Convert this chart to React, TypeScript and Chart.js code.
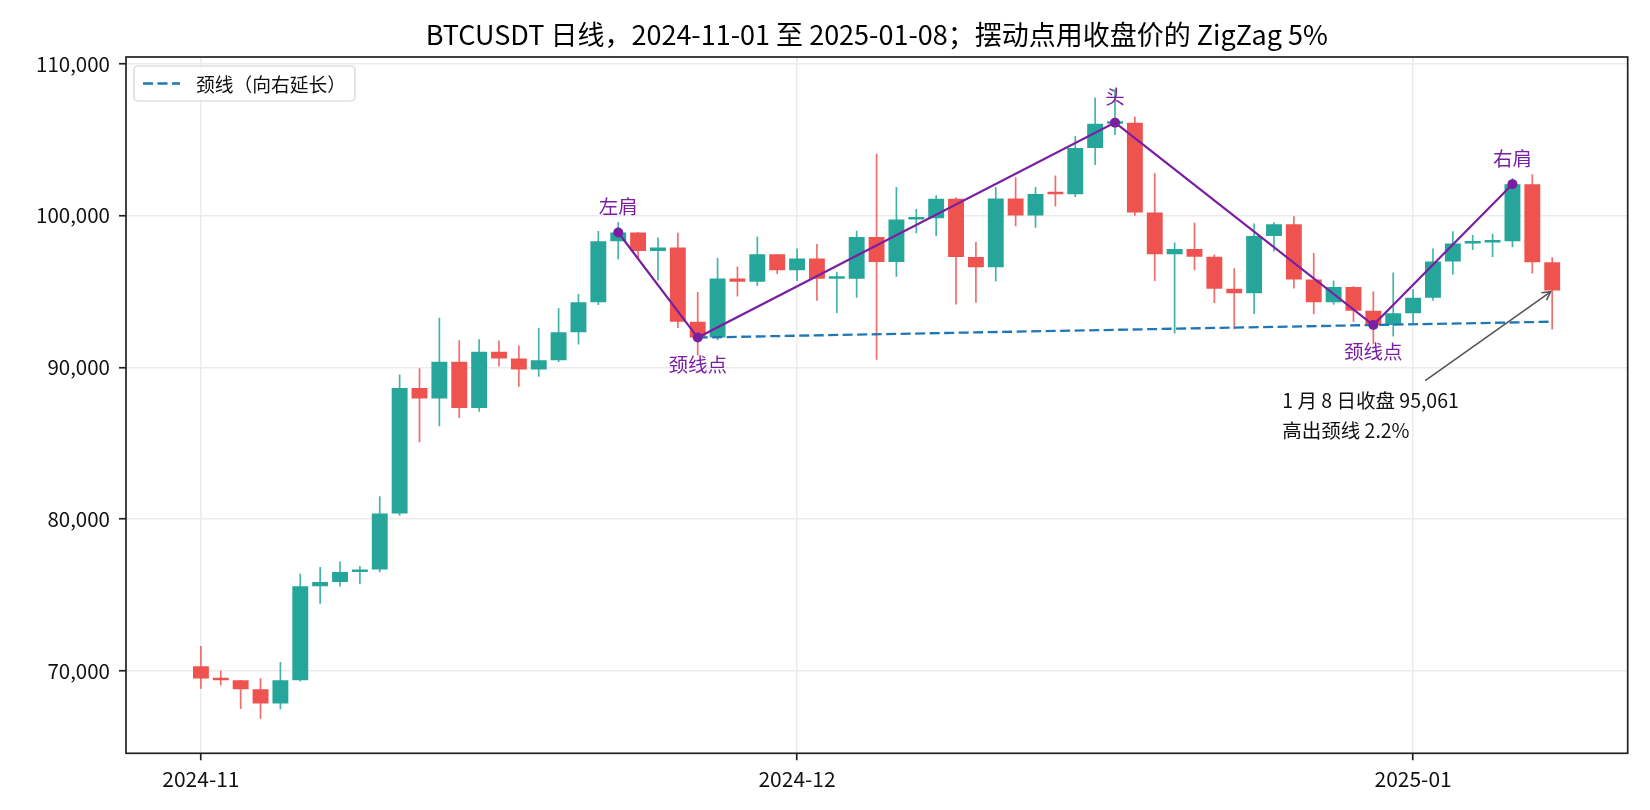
import React, { useEffect, useRef } from 'react';
import { Chart, registerables } from 'chart.js';

Chart.register(...registerables);

// ---------- data ----------
const dates = [
  '2024-11-01','2024-11-02','2024-11-03','2024-11-04','2024-11-05','2024-11-06','2024-11-07','2024-11-08','2024-11-09','2024-11-10',
  '2024-11-11','2024-11-12','2024-11-13','2024-11-14','2024-11-15','2024-11-16','2024-11-17','2024-11-18','2024-11-19','2024-11-20',
  '2024-11-21','2024-11-22','2024-11-23','2024-11-24','2024-11-25','2024-11-26','2024-11-27','2024-11-28','2024-11-29','2024-11-30',
  '2024-12-01','2024-12-02','2024-12-03','2024-12-04','2024-12-05','2024-12-06','2024-12-07','2024-12-08','2024-12-09','2024-12-10',
  '2024-12-11','2024-12-12','2024-12-13','2024-12-14','2024-12-15','2024-12-16','2024-12-17','2024-12-18','2024-12-19','2024-12-20',
  '2024-12-21','2024-12-22','2024-12-23','2024-12-24','2024-12-25','2024-12-26','2024-12-27','2024-12-28','2024-12-29','2024-12-30',
  '2024-12-31','2025-01-01','2025-01-02','2025-01-03','2025-01-04','2025-01-05','2025-01-06','2025-01-07','2025-01-08',
];

const opens = [
  70292,69496,69374,68775,67850,69372,75571,75857,76509,76678,80370,88647,87952,90375,87325,91032,90587,89855,90465,92310,
  94286,98317,98892,97672,97900,93010,91965,95864,95643,97460,
  96407,97185,95840,95849,98587,96945,99740,99831,101109,97276,96593,101125,100004,101424,101420,104463,106058,106133,100204,97461,
  97805,97292,95187,94881,98663,99429,95792,94299,95300,93738,92792,
  93576,94591,96985,98174,98236,98314,102078,96922,
];

const highs = [
  71632,70000,69391,69500,70577,76400,76849,77199,76900,81500,89530,89940,93265,91790,91850,91779,91449,92594,93905,94831,
  98984,99588,98908,98564,98871,94973,97208,96650,98619,97463,
  97836,98130,96305,99000,104088,101898,100439,101351,101215,98270,101888,102540,101895,102650,105250,107793,108353,106524,102800,98233,
  99540,97448,96538,99487,99569,99963,97544,95733,95340,95024,96250,
  95151,97839,98976,98734,98813,102482,102724,97258,
];

const lows = [
  68820,69024,67478,66835,67458,69298,74416,75555,75714,76492,80216,85072,86127,86668,87073,90056,88722,89376,90357,91500,
  94113,97122,97136,95734,92600,90791,91792,94677,95364,96150,
  95693,94395,93578,94587,90500,95981,98844,98657,94150,94256,95658,99311,99205,100610,101237,103333,105321,100000,95700,92232,
  96398,94250,92520,93515,97632,95199,93500,94135,93009,91530,92033,
  92888,94392,96100,97735,97271,97926,96181,92500,
];

const closes = [
  69496,69374,68775,67850,69372,75571,75857,76509,76678,80370,88647,87952,90375,87325,91032,90586,89855,90465,92310,94286,
  98317,98892,97672,97900,93010,91965,95863,95643,97460,96407,
  97185,95840,95849,98587,96945,99740,99831,101109,97276,96593,101125,100004,101424,101420,104463,106058,106133,100204,97461,97805,
  97291,95187,94881,98663,99429,95792,94299,95300,93738,92792,93576,
  94591,96984,98174,98236,98314,102078,96922,95061,
];

const xTickDates = ['2024-11-01', '2024-12-01', '2025-01-01'];
const xTickLabels = ['2024-11', '2024-12', '2025-01'];
const yTickValues = [70000, 80000, 90000, 100000, 110000];

const pivotDates = ['2024-11-22', '2024-11-26', '2024-12-17', '2024-12-30', '2025-01-06'];
const pivotCloses = [98892, 91965, 106133, 92792, 102078];
const pivotLabels = ['左肩', '颈线点', '头', '颈线点', '右肩'];
const pivotAbove = [true, false, true, false, true];

const necklineDates = ['2024-11-26', '2025-01-08'];
const necklineValues = [91965, 93011];

const annotationDate = '2025-01-08';
const annotationClose = 95061;
const annotationLines = ['1 月 8 日收盘 95,061', '高出颈线 2.2%'];

const titleText = 'BTCUSDT 日线，2024-11-01 至 2025-01-08；摆动点用收盘价的 ZigZag 5%';
const legendLabel = '颈线（向右延长）';

// ---------- styles ----------
const FONT = '"Noto Sans CJK SC", "Noto Sans", sans-serif';
const UP = '#26a69a';
const DOWN = '#ef5350';
const UP_WICK = 'rgba(38,166,154,0.85)';
const DOWN_WICK = 'rgba(239,83,80,0.85)';
const PURPLE = '#7b1fa2';
const BLUE = '#1f77b4';

const idx = (d: string) => dates.indexOf(d);

export default function App() {
  const ref = useRef<HTMLCanvasElement | null>(null);

  useEffect(() => {
    if (!ref.current) return;

    const isUp = dates.map((_, i) => closes[i] >= opens[i]);

    const decor = {
      id: 'decor',
      afterDatasetsDraw(chart: any) {
        const { ctx, chartArea: a, scales } = chart;
        const xs = scales.x;
        const ys = scales.y;
        ctx.save();

        // frame
        ctx.strokeStyle = '#222';
        ctx.lineWidth = 1.7;
        ctx.strokeRect(a.left, a.top, a.right - a.left, a.bottom - a.top);

        // pivot labels
        ctx.fillStyle = PURPLE;
        ctx.font = `19.5px ${FONT}`;
        ctx.textAlign = 'center';
        ctx.textBaseline = 'middle';
        pivotDates.forEach((d, i) => {
          const px = xs.getPixelForValue(idx(d));
          const py = ys.getPixelForValue(pivotCloses[i]);
          ctx.fillText(pivotLabels[i], px, pivotAbove[i] ? py - 26 : py + 27);
        });

        // annotation arrow
        const hx = xs.getPixelForValue(idx(annotationDate));
        const hy = ys.getPixelForValue(annotationClose);
        const tx = hx - 127;
        const ty = hy + 90;
        ctx.strokeStyle = '#555';
        ctx.lineWidth = 1.6;
        ctx.beginPath();
        ctx.moveTo(tx, ty);
        ctx.lineTo(hx - 2, hy + 1.5);
        ctx.stroke();
        const ang = Math.atan2(hy - ty, hx - tx);
        const hl = 11;
        const hw = 0.42;
        ctx.beginPath();
        ctx.moveTo(hx - hl * Math.cos(ang - hw), hy - hl * Math.sin(ang - hw));
        ctx.lineTo(hx - 2 * Math.cos(ang), hy - 2 * Math.sin(ang));
        ctx.lineTo(hx - hl * Math.cos(ang + hw), hy - hl * Math.sin(ang + hw));
        ctx.stroke();

        // annotation text
        ctx.fillStyle = '#111';
        ctx.textAlign = 'left';
        ctx.textBaseline = 'alphabetic';
        ctx.font = `19.5px ${FONT}`;
        annotationLines.forEach((line, i) => {
          ctx.fillText(line, hx - 270, hy + 117 + i * 30);
        });

        // legend
        const lx = a.left + 8;
        const ly = a.top + 9;
        const lw = 221;
        const lh = 35;
        ctx.beginPath();
        (ctx as any).roundRect(lx, ly, lw, lh, 4);
        ctx.fillStyle = 'rgba(255,255,255,0.85)';
        ctx.fill();
        ctx.strokeStyle = '#d0d0d0';
        ctx.lineWidth = 1.2;
        ctx.stroke();
        ctx.strokeStyle = BLUE;
        ctx.lineWidth = 2.3;
        ctx.setLineDash([10, 4.5]);
        ctx.beginPath();
        ctx.moveTo(lx + 9, ly + lh / 2);
        ctx.lineTo(lx + 46, ly + lh / 2);
        ctx.stroke();
        ctx.setLineDash([]);
        ctx.fillStyle = '#111';
        ctx.textBaseline = 'middle';
        ctx.font = `18.75px ${FONT}`;
        ctx.fillText(legendLabel, lx + 62, ly + lh / 2 + 1);

        ctx.restore();
      },
      afterDraw(chart: any) {
        const { ctx, chartArea: a } = chart;
        ctx.save();
        ctx.fillStyle = '#000';
        ctx.font = `27px ${FONT}`;
        ctx.textAlign = 'center';
        ctx.textBaseline = 'middle';
        ctx.fillText(titleText, (a.left + a.right) / 2, 35);
        ctx.restore();
      },
    };

    const chart = new Chart(ref.current, {
      type: 'bar',
      data: {
        datasets: [
          {
            type: 'line',
            label: 'zigzag',
            data: pivotDates.map((d, i) => ({ x: idx(d), y: pivotCloses[i] })),
            borderColor: PURPLE,
            backgroundColor: PURPLE,
            borderWidth: 2.2,
            pointRadius: 5,
            pointBorderWidth: 0,
            pointBackgroundColor: PURPLE,
            order: 0,
          } as any,
          {
            type: 'line',
            label: legendLabel,
            data: necklineDates.map((d, i) => ({ x: idx(d), y: necklineValues[i] })),
            borderColor: BLUE,
            borderWidth: 2.3,
            borderDash: [10, 4.5],
            pointRadius: 0,
            order: 1,
          } as any,
          {
            type: 'bar',
            label: 'body',
            data: dates.map((_, i) => ({ x: i, y: [opens[i], closes[i]] })),
            backgroundColor: isUp.map((u) => (u ? UP : DOWN)),
            borderWidth: 0,
            barPercentage: 0.8,
            categoryPercentage: 1,
            grouped: false,
            minBarLength: 2.5,
            order: 2,
          } as any,
          {
            type: 'bar',
            label: 'wick',
            data: dates.map((_, i) => ({ x: i, y: [lows[i], highs[i]] })),
            backgroundColor: isUp.map((u) => (u ? UP_WICK : DOWN_WICK)),
            borderWidth: 0,
            barPercentage: 0.085,
            categoryPercentage: 1,
            grouped: false,
            order: 3,
          } as any,
        ],
      },
      options: {
        animation: false,
        responsive: false,
        devicePixelRatio: 1,
        layout: { padding: { left: 0, top: 57, right: 22.3, bottom: 0 } },
        plugins: {
          legend: { display: false },
          tooltip: { enabled: false },
          title: { display: false },
        },
        scales: {
          x: {
            type: 'linear',
            min: -3.77,
            max: 71.8,
            offset: false,
            afterBuildTicks: (s: any) => {
              s.ticks = xTickDates.map((d) => ({ value: idx(d) }));
            },
            afterFit: (s: any) => {
              s.height = 56.7;
            },
            ticks: {
              autoSkip: false,
              maxRotation: 0,
              padding: 6,
              color: '#111',
              font: { family: FONT, size: 21 },
              callback: (v: any) => {
                const k = xTickDates.map(idx).indexOf(v);
                return k >= 0 ? xTickLabels[k] : '';
              },
            },
            grid: {
              offset: false,
              color: '#ebebeb',
              lineWidth: 1.5,
              drawTicks: true,
              tickColor: '#222',
              tickLength: 7,
              tickWidth: 1.7,
            },
            border: { display: false },
          },
          y: {
            type: 'linear',
            min: 64560,
            max: 110460,
            afterBuildTicks: (s: any) => {
              s.ticks = yTickValues.map((v) => ({ value: v }));
            },
            afterFit: (s: any) => {
              s.width = 126;
            },
            ticks: {
              padding: 9,
              color: '#111',
              font: { family: FONT, size: 20.5 },
              callback: (v: any) => Number(v).toLocaleString('en-US'),
            },
            grid: {
              offset: false,
              color: '#ebebeb',
              lineWidth: 1.5,
              drawTicks: true,
              tickColor: '#222',
              tickLength: 7,
              tickWidth: 1.7,
            },
            border: { display: false },
          },
        },
      } as any,
      plugins: [decor],
    });

    return () => chart.destroy();
  }, []);

  return (
    <div style={{ position: 'fixed', left: 0, top: 0, width: 1650, height: 810, background: '#fff' }}>
      <canvas ref={ref} width={1650} height={810} style={{ width: 1650, height: 810 }} />
    </div>
  );
}
